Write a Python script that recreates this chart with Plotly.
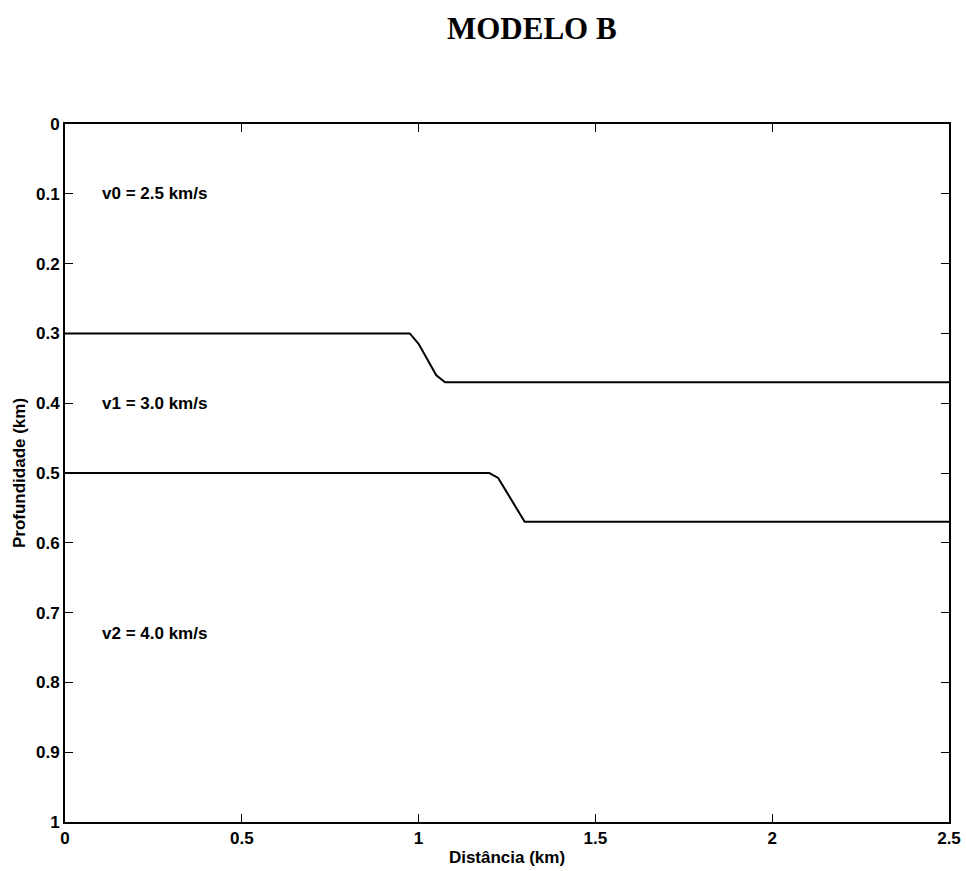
import plotly.graph_objects as go

# Interface 1 (upper)
x_if1 = [0.0, 0.975, 1.0, 1.05, 1.075, 2.5]
z_if1 = [0.30, 0.30, 0.315, 0.36, 0.37, 0.37]
# Interface 2 (lower)
x_if2 = [0.0, 1.2, 1.225, 1.30, 2.5]
z_if2 = [0.50, 0.50, 0.507, 0.57, 0.57]

layer_labels = ["v0 = 2.5 km/s", "v1 = 3.0 km/s", "v2 = 4.0 km/s"]
label_x = [0.1, 0.1, 0.1]
label_z = [0.1, 0.4, 0.73]

x_ticks = [0, 0.5, 1, 1.5, 2, 2.5]
x_ticktext = ["0", "0.5", "1", "1.5", "2", "2.5"]
y_ticks = [0, 0.1, 0.2, 0.3, 0.4, 0.5, 0.6, 0.7, 0.8, 0.9, 1]
y_ticktext = ["0", "0.1", "0.2", "0.3", "0.4", "0.5", "0.6", "0.7", "0.8", "0.9", "1"]

plot_l, plot_r, plot_t, plot_b = 65, 949, 124, 822

fig = go.Figure()
for xs, zs in [(x_if1, z_if1), (x_if2, z_if2)]:
    fig.add_trace(go.Scatter(x=xs, y=zs, mode="lines",
                             line=dict(color="black", width=2),
                             showlegend=False, hoverinfo="skip"))

txt_font = dict(family="Liberation Sans, Arial", size=17, color="black", weight="bold")
for t, lx, lz in zip(layer_labels, label_x, label_z):
    fig.add_annotation(x=lx, y=lz, text=t, showarrow=False, xanchor="left",
                       yanchor="middle", font=txt_font)

fig.add_annotation(x=(532 - plot_l) / (plot_r - plot_l), y=(plot_b - 28) / (plot_b - plot_t),
                   xref="paper", yref="paper", text="<b>MODELO B</b>",
                   showarrow=False, xanchor="center", yanchor="middle",
                   font=dict(family="Liberation Serif, Times New Roman", size=31, color="black"))

axis_font = dict(family="Liberation Sans, Arial", size=17, color="black", weight="bold")
fig.update_layout(
    width=966, height=871,
    margin=dict(l=plot_l, r=966 - plot_r, t=plot_t, b=871 - plot_b, autoexpand=False),
    paper_bgcolor="white", plot_bgcolor="white",
    font=dict(family="Liberation Sans, Arial", size=17, color="black"),
    xaxis=dict(range=[0, 2.5], tickvals=x_ticks, ticktext=x_ticktext,
               ticks="inside", ticklen=8, tickwidth=1, tickcolor="black",
               showline=True, linecolor="black", linewidth=2, mirror="ticks",
               showgrid=False, zeroline=False, tickfont=axis_font,
               title=dict(text="Distância (km)", font=axis_font, standoff=4)),
    yaxis=dict(range=[1, 0], tickvals=y_ticks, ticktext=y_ticktext,
               ticks="inside", ticklen=8, tickwidth=1, tickcolor="black",
               showline=True, linecolor="black", linewidth=2, mirror="ticks",
               showgrid=False, zeroline=False, tickfont=axis_font,
               title=dict(text="Profundidade (km)", font=axis_font, standoff=6)),
)

fig.write_html("out.html")
